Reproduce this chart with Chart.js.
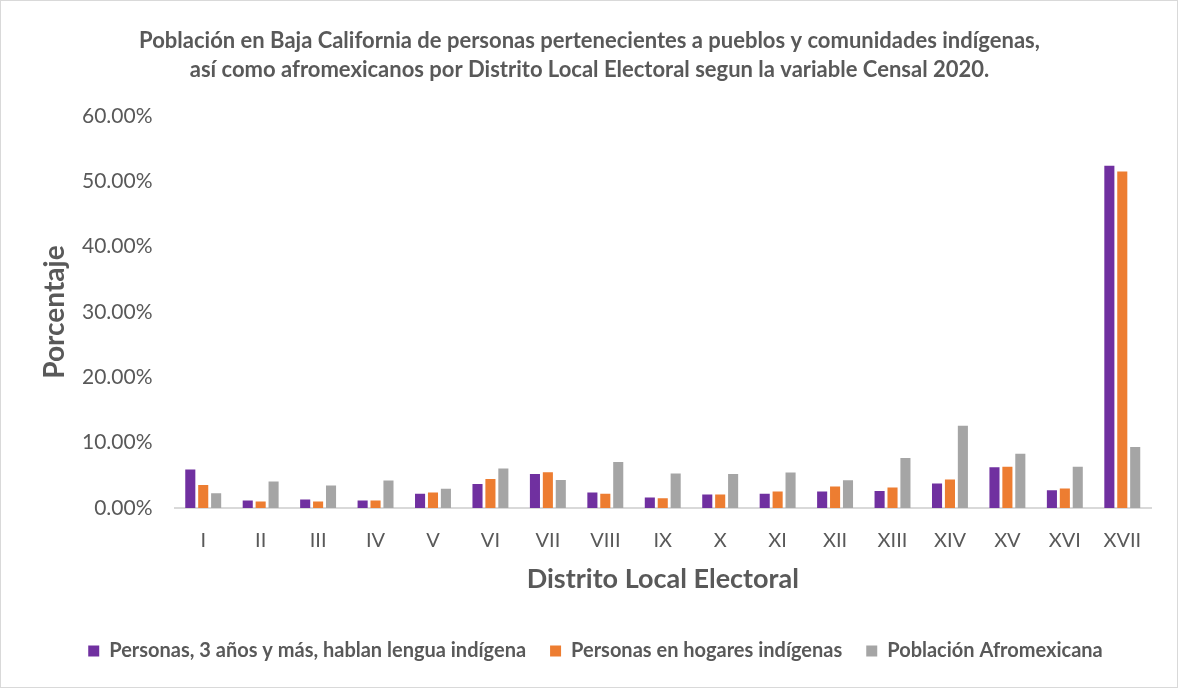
<!DOCTYPE html>
<html>
<head>
<meta charset="utf-8">
<script src="https://cdn.jsdelivr.net/npm/chart.js@4.4.1/dist/chart.umd.min.js"></script>
<style>
  html, body { margin: 0; padding: 0; background: #ffffff; }
  #wrap { position: absolute; left: 0; top: 0; width: 1178px; height: 688px; box-sizing: border-box; border: 1px solid #d9d9d9; background: #fff; }
  canvas { display: block; }
</style>
</head>
<body>
<div id="wrap"><canvas id="c" width="1176" height="686"></canvas></div>
<script>
const categories = ["I","II","III","IV","V","VI","VII","VIII","IX","X","XI","XII","XIII","XIV","XV","XVI","XVII"];
const hablanLengua = [5.88, 1.15, 1.30, 1.15, 2.20, 3.69, 5.20, 2.37, 1.60, 2.06, 2.20, 2.52, 2.62, 3.74, 6.23, 2.72, 52.4];
const hogaresIndigenas = [3.54, 1.00, 1.00, 1.15, 2.37, 4.45, 5.47, 2.17, 1.50, 2.06, 2.52, 3.28, 3.13, 4.35, 6.33, 2.98, 51.5];
const afromexicana = [2.26, 4.05, 3.43, 4.20, 2.93, 6.03, 4.30, 7.05, 5.30, 5.20, 5.42, 4.25, 7.66, 12.6, 8.32, 6.33, 9.34];
const seriesNames = ["Personas, 3 años y más, hablan lengua indígena", "Personas en hogares indígenas", "Población Afromexicana"];
const seriesColors = ["#7030A0", "#ED7D31", "#A5A5A5"];
const titleLines = ["Población en Baja California de personas pertenecientes a pueblos y comunidades indígenas,", "así como afromexicanos por Distrito Local Electoral segun la variable Censal 2020."];
const yTicksMax = 60, yStep = 10;

const txt = "#595959";
const FONT = "Lato, Carlito, Calibri, 'Open Sans', sans-serif";

const legendShift = {
  id: 'legendShift',
  afterLayout(chart) { chart.legend.left += 12; }
};

new Chart(document.getElementById('c'), {
  type: 'bar',
  data: {
    labels: categories,
    datasets: [
      { label: seriesNames[0], data: hablanLengua, backgroundColor: seriesColors[0] },
      { label: seriesNames[1], data: hogaresIndigenas, backgroundColor: seriesColors[1] },
      { label: seriesNames[2], data: afromexicana, backgroundColor: seriesColors[2] }
    ]
  },
  plugins: [legendShift],
  options: {
    responsive: false,
    animation: false,
    devicePixelRatio: 1,
    categoryPercentage: 0.675,
    barPercentage: 0.78,
    layout: { padding: { left: 27, right: 26, top: 12, bottom: 16 } },
    plugins: {
      title: {
        display: true,
        text: titleLines,
        color: txt,
        font: { family: FONT, size: 22, weight: 'bold', lineHeight: 1.32 },
        padding: { top: 13, bottom: 32 }
      },
      legend: {
        display: true,
        position: 'bottom',
        labels: {
          color: txt,
          font: { family: FONT, size: 20, weight: 'bold' },
          boxWidth: 11,
          boxHeight: 11,
          padding: 24
        }
      },
      tooltip: { enabled: false }
    },
    scales: {
      x: {
        grid: { display: false, drawTicks: false },
        border: { display: true, color: '#d9d9d9', width: 2 },
        ticks: { color: txt, font: { family: FONT, size: 20 }, padding: 21, maxRotation: 0 },
        title: { display: true, text: 'Distrito Local Electoral', color: txt, font: { family: FONT, size: 27, weight: 'bold' }, padding: { top: 0, bottom: 22 } },
        afterFit(scale) { scale.height = 109; }
      },
      y: {
        min: 0,
        max: yTicksMax,
        grid: { display: false, drawTicks: false },
        border: { display: false },
        ticks: { stepSize: yStep, color: txt, font: { family: FONT, size: 21 }, padding: 22, callback: v => v.toFixed(2) + '%' },
        title: { display: true, text: 'Porcentaje', color: txt, font: { family: FONT, size: 28, weight: 'bold' }, padding: { top: 10, bottom: 0 } },
        afterFit(scale) { scale.width = 146.5; }
      }
    }
  }
});
</script>
</body>
</html>
